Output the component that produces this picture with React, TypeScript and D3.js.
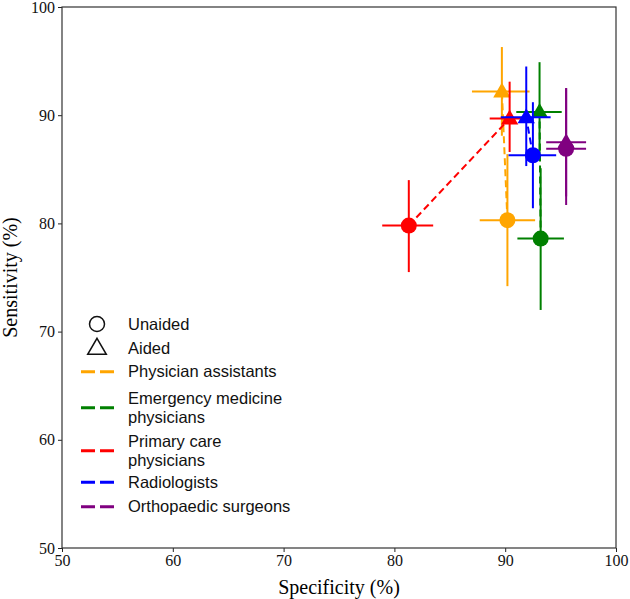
import React, { useEffect, useRef } from "react";
import * as d3 from "d3";

const groups = [
  "Physician assistants",
  "Emergency medicine physicians",
  "Primary care physicians",
  "Radiologists",
  "Orthopaedic surgeons",
];
const groupLines = [
  ["Physician assistants"],
  ["Emergency medicine", "physicians"],
  ["Primary care", "physicians"],
  ["Radiologists"],
  ["Orthopaedic surgeons"],
];
const colors = ["orange", "green", "red", "blue", "purple"];

// unaided (circle)
const unaidedSpec = [90.2, 93.2, 81.3, 92.5, 95.5];
const unaidedSpecLo = [87.7, 91.1, 78.9, 90.3, 93.7];
const unaidedSpecHi = [92.7, 95.3, 83.5, 94.6, 97.3];
const unaidedSens = [80.3, 78.6, 79.8, 86.3, 86.9];
const unaidedSensLo = [74.2, 72.0, 75.5, 81.4, 81.7];
const unaidedSensHi = [86.4, 85.1, 84.0, 91.2, 92.5];

// aided (triangle)
const aidedSpec = [89.7, 93.1, 90.4, 91.9, 95.5];
const aidedSpecLo = [87.0, 91.0, 88.6, 89.6, 93.7];
const aidedSpecHi = [92.2, 95.1, 92.2, 94.1, 97.3];
const aidedSens = [92.2, 90.3, 89.7, 89.8, 87.5];
const aidedSensLo = [88.1, 85.8, 86.6, 85.3, 82.5];
const aidedSensHi = [96.3, 94.9, 93.1, 94.5, 92.5];

const ticks = [50, 60, 70, 80, 90, 100];

const App = () => {
  const svgRef = useRef<SVGSVGElement>(null);

  useEffect(() => {
    const width = 630, height = 599;
    const margin = { top: 7, right: 14, bottom: 51, left: 62 };

    const x = d3.scaleLinear().domain([50, 100]).range([margin.left, width - margin.right]);
    const y = d3.scaleLinear().domain([50, 100]).range([height - margin.bottom, margin.top]);

    const svg = d3.select(svgRef.current);
    svg.selectAll("*").remove();

    const serif = "Liberation Serif, Times New Roman, serif";
    const sans = "Liberation Sans, Arial, sans-serif";

    // axes
    const xAxis = svg.append("g")
      .attr("transform", `translate(0,${height - margin.bottom})`)
      .call(d3.axisBottom(x).tickValues(ticks).tickSize(4).tickPadding(3));
    const yAxis = svg.append("g")
      .attr("transform", `translate(${margin.left},0)`)
      .call(d3.axisLeft(y).tickValues(ticks).tickSize(4).tickPadding(3));
    xAxis.attr("font-family", serif).attr("font-size", 16);
    yAxis.attr("font-family", serif).attr("font-size", 16);
    xAxis.select(".domain").remove();
    yAxis.select(".domain").remove();
    svg.selectAll(".tick line").attr("stroke", "#222");
    svg.selectAll(".tick text").attr("fill", "#111");

    // frame
    svg.append("rect")
      .attr("x", margin.left).attr("y", margin.top)
      .attr("width", width - margin.left - margin.right)
      .attr("height", height - margin.top - margin.bottom)
      .attr("fill", "none").attr("stroke", "#333").attr("stroke-width", 1.2);

    svg.append("text")
      .attr("x", (margin.left + width - margin.right) / 2).attr("y", 594)
      .attr("text-anchor", "middle").attr("font-family", serif).attr("font-size", 20)
      .text("Specificity (%)");
    svg.append("text")
      .attr("transform", `translate(17,${(margin.top + height - margin.bottom) / 2}) rotate(-90)`)
      .attr("text-anchor", "middle").attr("font-family", serif).attr("font-size", 20)
      .text("Sensitivity (%)");

    const plot = svg.append("g");
    const tri = d3.symbol().type(d3.symbolTriangle).size(130);

    const errorbar = (c, sx, sxLo, sxHi, sy, syLo, syHi) => {
      plot.append("line").attr("x1", x(sxLo)).attr("x2", x(sxHi)).attr("y1", y(sy)).attr("y2", y(sy))
        .attr("stroke", c).attr("stroke-width", 2);
      plot.append("line").attr("x1", x(sx)).attr("x2", x(sx)).attr("y1", y(syLo)).attr("y2", y(syHi))
        .attr("stroke", c).attr("stroke-width", 2);
    };

    groups.forEach((g, i) => {
      const c = colors[i];
      errorbar(c, unaidedSpec[i], unaidedSpecLo[i], unaidedSpecHi[i], unaidedSens[i], unaidedSensLo[i], unaidedSensHi[i]);
      plot.append("circle").attr("cx", x(unaidedSpec[i])).attr("cy", y(unaidedSens[i])).attr("r", 8).attr("fill", c);
      errorbar(c, aidedSpec[i], aidedSpecLo[i], aidedSpecHi[i], aidedSens[i], aidedSensLo[i], aidedSensHi[i]);
      plot.append("path").attr("d", tri)
        .attr("transform", `translate(${x(aidedSpec[i])},${y(aidedSens[i]) + 1})`).attr("fill", c);
      plot.append("line")
        .attr("x1", x(unaidedSpec[i])).attr("y1", y(unaidedSens[i]))
        .attr("x2", x(aidedSpec[i])).attr("y2", y(aidedSens[i]))
        .attr("stroke", c).attr("stroke-width", 2).attr("stroke-dasharray", "7,4");
    });

    // legend
    const leg = svg.append("g").attr("font-family", sans).attr("font-size", 16.5).attr("fill", "#111");
    const lx = 97, tx = 128;
    leg.append("circle").attr("cx", lx).attr("cy", 324).attr("r", 7.5)
      .attr("fill", "none").attr("stroke", "#111").attr("stroke-width", 1.5);
    leg.append("text").attr("x", tx).attr("y", 324).attr("dy", "0.35em").text("Unaided");
    leg.append("path").attr("d", d3.symbol().type(d3.symbolTriangle).size(150))
      .attr("transform", `translate(${lx},349)`)
      .attr("fill", "none").attr("stroke", "#111").attr("stroke-width", 1.5);
    leg.append("text").attr("x", tx).attr("y", 348).attr("dy", "0.35em").text("Aided");

    const rowY = [371.7, 407.7, 450.7, 482.3, 506.7];
    groupLines.forEach((lines, i) => {
      leg.append("line").attr("x1", 81).attr("x2", 114).attr("y1", rowY[i]).attr("y2", rowY[i])
        .attr("stroke", colors[i]).attr("stroke-width", 3).attr("stroke-dasharray", "14,5");
      lines.forEach((t, j) => {
        leg.append("text").attr("x", tx)
          .attr("y", rowY[i] + (j - (lines.length - 1) / 2) * 18.3)
          .attr("dy", "0.35em").text(t);
      });
    });
  }, []);

  return (
    <svg ref={svgRef} width={630} height={599}
      style={{ position: "absolute", left: 0, top: 0, background: "#fff" }} />
  );
};

export default App;
